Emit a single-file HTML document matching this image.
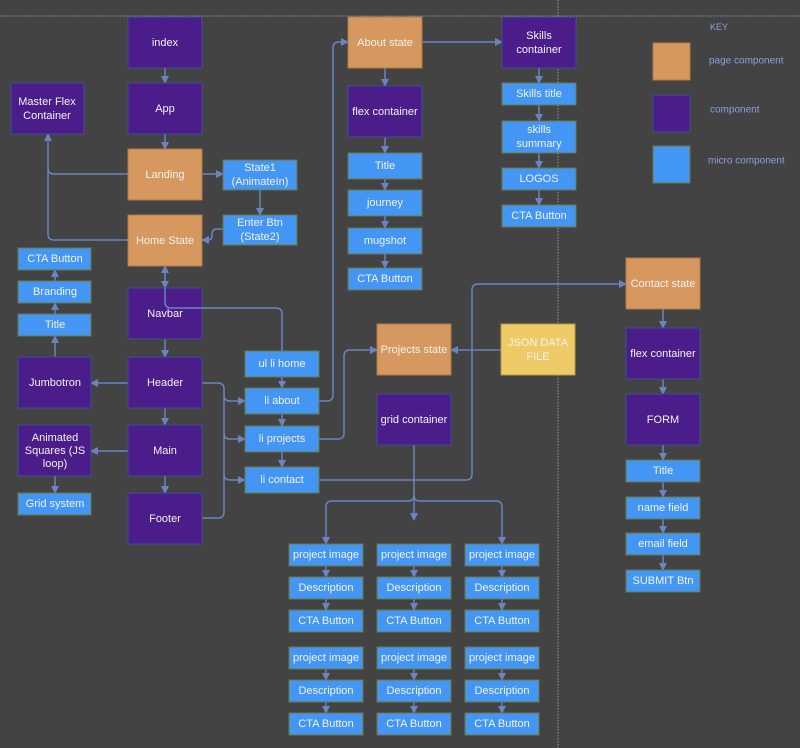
<!DOCTYPE html>
<html><head><meta charset="utf-8"><style>
body{margin:0;background:#434343;}
svg{display:block}
text{font-family:"Liberation Sans",sans-serif;font-size:11px;fill:#f2f2f2;text-anchor:middle;dominant-baseline:central}
.p{fill:#4a1d8a;stroke:#3f4f90;stroke-width:1}
.o{fill:#d6985e;stroke:#b07a45;stroke-width:1}
.b{fill:#4496f5;stroke:#6b7a3a;stroke-width:1}
.y{fill:#eecb66;stroke:#b89a40;stroke-width:1}
.l{fill:none;stroke:#6b84c0;stroke-width:1.5}
.k{fill:#8aa0e0;font-size:10px;text-anchor:start}
</style></head><body>
<svg width="800" height="748" viewBox="0 0 800 748" xmlns="http://www.w3.org/2000/svg">
<defs><marker id="a" markerWidth="8" markerHeight="8" refX="7" refY="4" orient="auto" markerUnits="userSpaceOnUse"><path d="M0,0 L8,4 L0,8 z" fill="#6b84c0"/></marker>
<marker id="s" markerWidth="8" markerHeight="8" refX="1" refY="4" orient="auto" markerUnits="userSpaceOnUse"><path d="M8,0 L0,4 L8,8 z" fill="#6b84c0"/></marker></defs>
<line x1="0" y1="16" x2="800" y2="16" stroke="#999" stroke-dasharray="1.5,1.5"/>
<line x1="558" y1="0" x2="558" y2="748" stroke="#999" stroke-dasharray="1.5,1.5"/>
<g class="l">
<path d="M128,240H54Q48,240 48,234V170"/>
<path d="M202,383H218Q224,383 224,389V512Q224,518 218,518H202"/>
</g>
<g class="l" marker-end="url(#a)">
<path d="M165,68V83"/><path d="M165,134V149"/><path d="M202,174H223"/><path d="M260,190V215"/>
<path d="M223,229H217Q212,229 212,234V236Q212,240 207,240H202"/>
<path d="M128,174H54Q48,174 48,168V134"/>
<path d="M165,266V288" marker-start="url(#s)"/>
<path d="M282,377V388"/><path d="M282,414V426"/><path d="M282,452V467"/>
<path d="M128,383H91"/><path d="M128,451H91"/>
<path d="M55,357V336"/><path d="M55,314V303"/><path d="M55,281V270"/><path d="M55,476V493"/>
<path d="M165,339V357"/><path d="M165,408V425"/><path d="M165,476V493"/>
<path d="M224,395Q224,401 230,401H245"/><path d="M224,433Q224,439 230,439H245"/><path d="M224,474Q224,480 230,480H245"/>
<path d="M319,401H327Q333,401 333,395V48Q333,42 339,42H348"/>
<path d="M422,42H502"/>
<path d="M385,68V86"/><path d="M385,137V153"/><path d="M385,179V190"/><path d="M385,216V228"/><path d="M385,254V268"/>
<path d="M539,68V83"/><path d="M539,105V121"/><path d="M539,153V168"/><path d="M539,190V205"/>
<path d="M319,439H338Q344,439 344,433V356Q344,350 350,350H377"/>
<path d="M501,350H451"/>
<path d="M319,480H466Q472,480 472,474V290Q472,284 478,284H626"/>
<path d="M414,445V520"/>
<path d="M414,495Q414,501 408,501H332Q326,501 326,507V544"/>
<path d="M414,495Q414,501 420,501H496Q502,501 502,507V544"/>
<path d="M663,309V328"/><path d="M663,379V394"/><path d="M663,445V460"/><path d="M663,482V497"/><path d="M663,519V533"/><path d="M663,555V570"/>
<path d="M326,566V577"/><path d="M326,599V610"/><path d="M414,566V577"/><path d="M414,599V610"/><path d="M502,566V577"/><path d="M502,599V610"/>
<path d="M326,669V680"/><path d="M326,702V713"/><path d="M414,669V680"/><path d="M414,702V713"/><path d="M502,669V680"/><path d="M502,702V713"/>
</g>
<g>
<rect class="p" x="128" y="17" width="74" height="51"/><text x="165" y="43">index</text>
<rect class="p" x="128" y="83" width="74" height="51"/><text x="165" y="109">App</text>
<rect class="p" x="11" y="83" width="73" height="51"/><text x="47" y="102">Master Flex</text><text x="47" y="116">Container</text>
<rect class="o" x="128" y="149" width="74" height="51"/><text x="165" y="175">Landing</text>
<rect class="b" x="223" y="160" width="74" height="30"/><text x="260" y="168">State1</text><text x="260" y="182">(AnimateIn)</text>
<rect class="b" x="223" y="215" width="74" height="30"/><text x="260" y="223">Enter Btn</text><text x="260" y="237">(State2)</text>
<rect class="o" x="128" y="215" width="74" height="51"/><text x="165" y="241">Home State</text>
<rect class="b" x="18" y="248" width="73" height="22"/><text x="55" y="259">CTA Button</text>
<rect class="b" x="18" y="281" width="73" height="22"/><text x="55" y="292">Branding</text>
<rect class="b" x="18" y="314" width="73" height="22"/><text x="55" y="325">Title</text>
<rect class="p" x="128" y="288" width="74" height="51"/><text x="165" y="314">Navbar</text>
<rect class="p" x="18" y="357" width="73" height="51"/><text x="55" y="383">Jumbotron</text>
<rect class="p" x="128" y="357" width="74" height="51"/><text x="165" y="383">Header</text>
<rect class="p" x="18" y="425" width="73" height="51"/><text x="55" y="438">Animated</text><text x="55" y="451">Squares (JS</text><text x="55" y="464">loop)</text>
<rect class="p" x="128" y="425" width="74" height="51"/><text x="165" y="451">Main</text>
<rect class="b" x="18" y="493" width="73" height="22"/><text x="55" y="504">Grid system</text>
<rect class="p" x="128" y="493" width="74" height="51"/><text x="165" y="519">Footer</text>
<rect class="b" x="245" y="351" width="74" height="26"/><text x="282" y="364">ul li home</text>
<rect class="b" x="245" y="388" width="74" height="26"/><text x="282" y="401">li about</text>
<rect class="b" x="245" y="426" width="74" height="26"/><text x="282" y="439">li projects</text>
<rect class="b" x="245" y="467" width="74" height="26"/><text x="282" y="480">li contact</text>
<rect class="o" x="348" y="17" width="74" height="51"/><text x="385" y="43">About state</text>
<rect class="p" x="348" y="86" width="74" height="51"/><text x="385" y="112">flex container</text>
<rect class="b" x="348" y="153" width="74" height="26"/><text x="385" y="166">Title</text>
<rect class="b" x="348" y="190" width="74" height="26"/><text x="385" y="203">journey</text>
<rect class="b" x="348" y="228" width="74" height="26"/><text x="385" y="241">mugshot</text>
<rect class="b" x="348" y="268" width="74" height="22"/><text x="385" y="279">CTA Button</text>
<rect class="p" x="502" y="17" width="74" height="51"/><text x="539" y="36">Skills</text><text x="539" y="50">container</text>
<rect class="b" x="502" y="83" width="74" height="22"/><text x="539" y="94">Skills title</text>
<rect class="b" x="502" y="121" width="74" height="32"/><text x="539" y="130">skills</text><text x="539" y="144">summary</text>
<rect class="b" x="502" y="168" width="74" height="22"/><text x="539" y="179">LOGOS</text>
<rect class="b" x="502" y="205" width="74" height="22"/><text x="539" y="216">CTA Button</text>
<rect class="o" x="377" y="324" width="74" height="51"/><text x="414" y="350">Projects state</text>
<rect class="p" x="377" y="394" width="74" height="51"/><text x="414" y="420">grid container</text>
<rect class="y" x="501" y="324" width="74" height="51"/><text x="538" y="343">JSON DATA</text><text x="538" y="357">FILE</text>
<rect class="o" x="626" y="258" width="74" height="51"/><text x="663" y="284">Contact state</text>
<rect class="p" x="626" y="328" width="74" height="51"/><text x="663" y="354">flex container</text>
<rect class="p" x="626" y="394" width="74" height="51"/><text x="663" y="420">FORM</text>
<rect class="b" x="626" y="460" width="74" height="22"/><text x="663" y="471">Title</text>
<rect class="b" x="626" y="497" width="74" height="22"/><text x="663" y="508">name field</text>
<rect class="b" x="626" y="533" width="74" height="22"/><text x="663" y="544">email field</text>
<rect class="b" x="626" y="570" width="74" height="22"/><text x="663" y="581">SUBMIT Btn</text>
</g>
<path class="l" d="M165,288V302Q165,308 171,308H276Q282,308 282,314V351"/>
<g>
<rect class="b" x="289" y="544" width="74" height="22"/><text x="326" y="555">project image</text>
<rect class="b" x="289" y="577" width="74" height="22"/><text x="326" y="588">Description</text>
<rect class="b" x="289" y="610" width="74" height="22"/><text x="326" y="621">CTA Button</text>
<rect class="b" x="377" y="544" width="74" height="22"/><text x="414" y="555">project image</text>
<rect class="b" x="377" y="577" width="74" height="22"/><text x="414" y="588">Description</text>
<rect class="b" x="377" y="610" width="74" height="22"/><text x="414" y="621">CTA Button</text>
<rect class="b" x="465" y="544" width="74" height="22"/><text x="502" y="555">project image</text>
<rect class="b" x="465" y="577" width="74" height="22"/><text x="502" y="588">Description</text>
<rect class="b" x="465" y="610" width="74" height="22"/><text x="502" y="621">CTA Button</text>
<rect class="b" x="289" y="647" width="74" height="22"/><text x="326" y="658">project image</text>
<rect class="b" x="289" y="680" width="74" height="22"/><text x="326" y="691">Description</text>
<rect class="b" x="289" y="713" width="74" height="22"/><text x="326" y="724">CTA Button</text>
<rect class="b" x="377" y="647" width="74" height="22"/><text x="414" y="658">project image</text>
<rect class="b" x="377" y="680" width="74" height="22"/><text x="414" y="691">Description</text>
<rect class="b" x="377" y="713" width="74" height="22"/><text x="414" y="724">CTA Button</text>
<rect class="b" x="465" y="647" width="74" height="22"/><text x="502" y="658">project image</text>
<rect class="b" x="465" y="680" width="74" height="22"/><text x="502" y="691">Description</text>
<rect class="b" x="465" y="713" width="74" height="22"/><text x="502" y="724">CTA Button</text>
</g>
<text class="k" x="710" y="27" style="font-size:9px">KEY</text>
<rect class="o" x="653" y="43" width="37" height="37"/><text class="k" x="709" y="61">page component</text>
<rect class="p" x="653" y="95" width="37" height="37"/><text class="k" x="710" y="110">component</text>
<rect class="b" x="653" y="146" width="37" height="37"/><text class="k" x="708" y="161">micro component</text>
</svg>
</body></html>
